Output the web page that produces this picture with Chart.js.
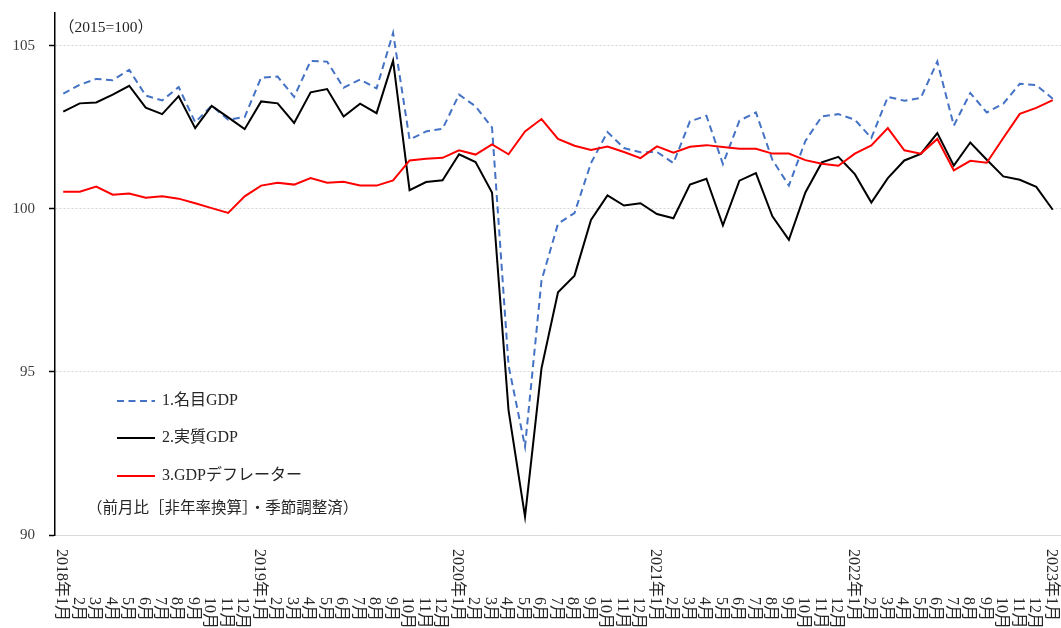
<!DOCTYPE html>
<html><head><meta charset="utf-8">
<script src="https://cdn.jsdelivr.net/npm/chart.js@4"></script>
<style>html,body{margin:0;padding:0;background:#fff;}#wrap{width:1061px;height:628px;position:relative;}</style>
</head><body><div id="wrap"><canvas id="c"></canvas></div>
<script>
const labels=['2018年1月','2月','3月','4月','5月','6月','7月','8月','9月','10月','11月','12月',
'2019年1月','2月','3月','4月','5月','6月','7月','8月','9月','10月','11月','12月',
'2020年1月','2月','3月','4月','5月','6月','7月','8月','9月','10月','11月','12月',
'2021年1月','2月','3月','4月','5月','6月','7月','8月','9月','10月','11月','12月',
'2022年1月','2月','3月','4月','5月','6月','7月','8月','9月','10月','11月','12月',
'2023年1月'];
const nominalGDP=[103.53,103.80,103.98,103.94,104.26,103.47,103.32,103.73,102.65,103.16,102.73,102.81,
104.02,104.05,103.43,104.53,104.51,103.71,103.96,103.69,105.39,102.12,102.37,102.45,
103.50,103.14,102.49,95.20,92.71,97.80,99.54,99.87,101.40,102.35,101.86,101.73,
101.74,101.40,102.68,102.85,101.37,102.70,102.95,101.50,100.71,102.08,102.83,102.90,
102.73,102.17,103.43,103.31,103.40,104.51,102.55,103.55,102.95,103.22,103.83,103.79,
103.37];
const realGDP=[102.98,103.23,103.26,103.50,103.77,103.10,102.90,103.45,102.47,103.15,102.80,102.44,
103.29,103.23,102.63,103.57,103.67,102.83,103.22,102.93,104.54,100.57,100.82,100.87,
101.67,101.43,100.50,93.83,90.56,95.11,97.44,97.95,99.66,100.41,100.10,100.17,
99.84,99.71,100.74,100.92,99.49,100.86,101.09,99.77,99.05,100.50,101.42,101.59,
101.06,100.19,100.94,101.48,101.68,102.32,101.32,102.03,101.50,100.99,100.89,100.67,
99.97];
const deflator=[100.52,100.52,100.68,100.43,100.47,100.34,100.38,100.31,100.17,100.02,99.87,100.38,
100.71,100.80,100.74,100.94,100.80,100.83,100.71,100.71,100.87,101.48,101.53,101.56,
101.79,101.66,101.97,101.67,102.37,102.75,102.14,101.93,101.80,101.91,101.74,101.55,
101.91,101.72,101.90,101.95,101.89,101.84,101.84,101.69,101.69,101.49,101.38,101.32,
101.69,101.94,102.47,101.79,101.69,102.14,101.18,101.47,101.41,102.17,102.91,103.09,
103.33];
const yTicks=[90,95,100,105];
const seriesNames=['1.名目GDP','2.実質GDP','3.GDPデフレーター'];
const unitNote='（2015=100）';
const basisNote='（前月比［非年率換算］・季節調整済）';

const FONT='"Liberation Serif","Noto Sans CJK JP",serif';

const annot={id:'annot',afterDraw(chart){
  const {ctx,chartArea:ca,scales:{x}}=chart;
  ctx.save();
  ctx.fillStyle='#262626';
  ctx.font='16px '+FONT;
  ctx.textBaseline='middle';ctx.textAlign='left';
  const monthTop=ca.bottom+62;
  labels.forEach((lab,i)=>{
    const px=x.getPixelForValue(i)-2;
    const k=lab.indexOf('年');
    const yearPart=k>=0?lab.slice(0,k+1):'';
    const start=monthTop-(yearPart?ctx.measureText(yearPart).width:0);
    ctx.save();ctx.translate(px,start);ctx.rotate(Math.PI/2);ctx.fillText(lab,0,0);ctx.restore();
  });
  const rows=[ca.top+388,ca.top+425,ca.top+463];
  const x0=ca.left+62,x1=ca.left+100,tx=ca.left+107;
  ctx.font='16px '+FONT;ctx.textBaseline='middle';ctx.textAlign='left';
  chart.data.datasets.forEach((ds,i)=>{
    ctx.save();
    ctx.strokeStyle=ds.borderColor;ctx.lineWidth=ds.borderWidth;
    ctx.setLineDash(ds.borderDash||[]);
    ctx.beginPath();ctx.moveTo(x0,rows[i]);ctx.lineTo(x1,rows[i]);ctx.stroke();
    ctx.restore();
    ctx.fillStyle='#262626';
    ctx.fillText(ds.label,tx,rows[i]);
  });
  ctx.font='15.5px '+FONT;
  ctx.fillText(basisNote,ca.left+32,ca.top+496);
  ctx.fillText(unitNote,ca.left+4,ca.top+15);
  ctx.restore();
}};

new Chart(document.getElementById('c'),{
  type:'line',
  data:{labels:labels,datasets:[
    {label:seriesNames[0],data:nominalGDP,borderColor:'#4472C4',borderWidth:2,borderDash:[7,4.5],pointRadius:0,tension:0,fill:false,order:3},
    {label:seriesNames[1],data:realGDP,borderColor:'#000000',borderWidth:2,pointRadius:0,tension:0,fill:false,order:2},
    {label:seriesNames[2],data:deflator,borderColor:'#FF0000',borderWidth:2,pointRadius:0,tension:0,fill:false,order:1}
  ]},
  options:{
    responsive:true,maintainAspectRatio:false,animation:false,
    layout:{padding:{top:13,right:0,bottom:93,left:0}},
    plugins:{legend:{display:false},tooltip:{enabled:false}},
    scales:{
      x:{offset:true,grid:{display:false,drawTicks:false},border:{display:true,color:'#d9d9d9',width:1},ticks:{display:false},
        afterFit(s){s.paddingLeft=0;s.paddingRight=0;}},
      y:{min:90,max:106,
        afterBuildTicks(s){s.ticks=yTicks.map(v=>({value:v}));},
        afterFit(s){s.width=55;s.paddingTop=0;s.paddingBottom=0;},
        border:{display:true,color:'#000',width:1.5,dash:[2,2]},
        grid:{color:c=>(c.tick&&c.tick.value===90)?'rgba(0,0,0,0)':'#d6d6d6',lineWidth:1,drawTicks:true,tickLength:6,tickColor:'#000',tickWidth:1.5,tickBorderDash:[]},
        ticks:{padding:14,color:'#404040',font:{family:FONT,size:15}}
      }
    }
  },
  plugins:[annot]
});
</script></body></html>
